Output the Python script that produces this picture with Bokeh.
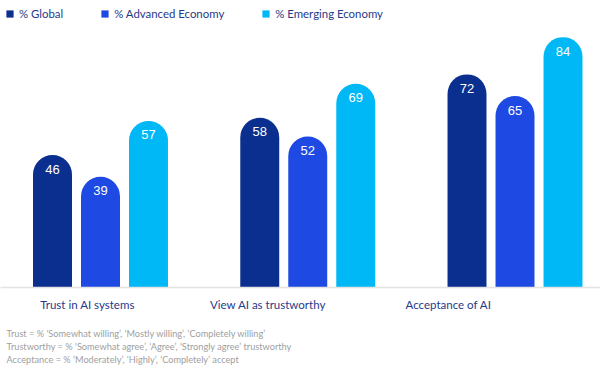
from bokeh.plotting import figure
from bokeh.models import (Range1d, LinearAxis, FixedTicker, Title, ColumnDataSource,
                          Legend, LegendItem)
from bokeh.core.properties import value
from bokeh.embed import file_html
from bokeh.resources import INLINE
import numpy as np

categories = ["Trust in AI systems", "View AI as trustworthy", "Acceptance of AI"]
series = ["% Global", "% Advanced Economy", "% Emerging Economy"]
global_vals = [46, 58, 72]
advanced_vals = [39, 52, 65]
emerging_vals = [57, 69, 84]
footnotes = [
    "Trust = % \u2018Somewhat willing\u2019, \u2018Mostly willing\u2019, \u2018Completely willing\u2019",
    "Trustworthy = % \u2018Somewhat agree\u2019, \u2018Agree\u2019, \u2018Strongly agree\u2019 trustworthy",
    "Acceptance = % \u2018Moderately\u2019, \u2018Highly\u2019, \u2018Completely\u2019 accept",
]

colors = ["#0B2F8F", "#1E49E2", "#00B8F5"]
FONT = "Lato"
LABEL_COLOR = "#1F3A8A"

p = figure(width=600, height=373, output_backend="svg", toolbar_location=None,
           x_range=Range1d(0.0175, 2.9125), y_range=Range1d(3.35, 95.8),
           x_axis_type=None, y_axis_type=None,
           min_border_left=0, min_border_right=0, min_border_top=0, min_border_bottom=86)
p.outline_line_color = None
p.grid.visible = False
p.background_fill_color = "white"
p.border_fill_color = "white"

centers = np.arange(len(categories)) + 0.5
pitch = 0.2316
width = 0.188
all_vals = [global_vals, advanced_vals, emerging_vals]
items = []
for i, (name, vals, col) in enumerate(zip(series, all_vals, colors)):
    xs = centers + (i - 1) * pitch
    src = ColumnDataSource(dict(x=xs, top=vals, lab=[str(v) for v in vals]))
    r = p.vbar(x="x", top="top", bottom=0, width=width, source=src, fill_color=col,
               line_color=None, border_radius=(20, 20, 0, 0))
    p.text(x="x", y="top", text="lab", source=src, y_offset=14, text_align="center",
           text_baseline="middle", text_color="white", text_font=value("Liberation Sans"),
           text_font_size="13px")
    items.append(LegendItem(label=name, renderers=[r]))

legend = Legend(items=items, location=(5, 267), orientation="horizontal",
                glyph_width=9, glyph_height=9, label_standoff=5, spacing=37,
                padding=0, margin=0, label_height=12,
                border_line_alpha=0, background_fill_alpha=0,
                label_text_font=FONT, label_text_font_size="11.4px",
                label_text_color=LABEL_COLOR)
p.add_layout(legend)

p.extra_x_ranges = {"lab": Range1d(0.018, 3.342)}
ax = LinearAxis(x_range_name="lab", ticker=FixedTicker(ticks=list(centers)),
                major_label_overrides={float(c): t for c, t in zip(centers, categories)},
                axis_line_color="#E3E3E3", axis_line_width=1.5,
                major_tick_line_color=None, minor_tick_line_color=None,
                major_label_standoff=4, major_label_text_font=FONT,
                major_label_text_font_size="11.5px", major_label_text_color=LABEL_COLOR,
                axis_label=" ", axis_label_standoff=0, axis_label_text_font_size="8px")
p.add_layout(ax, "below")

for k, t in enumerate(footnotes):
    p.add_layout(Title(text=t, text_font=FONT, text_font_size="9.2px",
                       text_font_style="normal", text_color="#A0A0A0",
                       standoff=0, offset=6, align="left"), "below")

open("out.html", "w").write(file_html(p, INLINE))
